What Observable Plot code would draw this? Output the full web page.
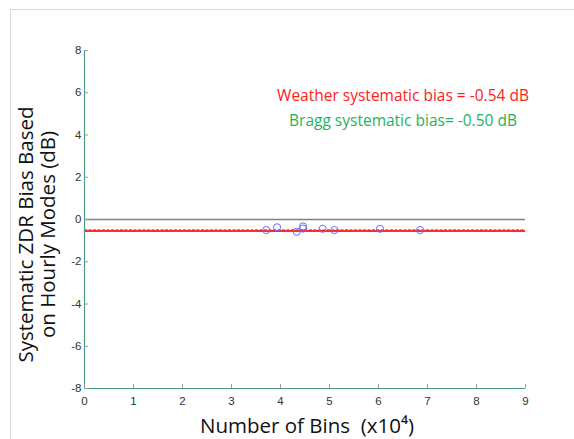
<!DOCTYPE html>
<html>
<head>
<meta charset="utf-8">
<script src="https://cdn.jsdelivr.net/npm/d3@7"></script>
<script src="https://cdn.jsdelivr.net/npm/@observablehq/plot@0.6"></script>
<style>
  html, body { margin: 0; padding: 0; background: #fff; }
  #wrap { position: relative; width: 574px; height: 439px; }
  #frame { position: absolute; left: 10px; top: 9px; right: 0; bottom: 0;
           border-left: 1px solid #dadada; border-top: 1px solid #dadada; }
  #chart { position: absolute; left: 0; top: 0; }
  #chart svg { background: transparent !important; }
</style>
</head>
<body>
<div id="wrap"><div id="frame"></div><div id="chart"></div></div>
<script>
// Data
const binsX10k = [3.71, 3.93, 4.33, 4.46, 4.46, 4.86, 5.10, 6.03, 6.85];
const biasDb   = [-0.50, -0.37, -0.58, -0.33, -0.43, -0.44, -0.50, -0.44, -0.50];
const weatherBias = -0.54;
const braggBias = -0.50;
const xTicks = [0, 1, 2, 3, 4, 5, 6, 7, 8, 9];
const yTicks = [-8, -6, -4, -2, 0, 2, 4, 6, 8];
const weatherLabel = "Weather systematic bias = -0.54 dB";
const braggLabel = "Bragg systematic bias= -0.50 dB";
const yTitle = "Systematic ZDR Bias Based\non Hourly Modes (dB)";
const xTitle = "Number of Bins  (x10\u2074)";

const points = binsX10k.map((x, i) => ({x, y: biasDb[i]}));
const axisColor = "#4d9a7c";
const font = "'Open Sans', sans-serif";

const chart = Plot.plot({
  width: 574,
  height: 439,
  marginLeft: 84,
  marginRight: 49,
  marginTop: 50,
  marginBottom: 51,
  style: {background: "transparent", fontFamily: "'Liberation Sans', Arial, sans-serif", fontSize: "11.5px", color: "#333"},
  x: {domain: [0, 9]},
  y: {domain: [-8, 8]},
  marks: [
    Plot.ruleY([0], {stroke: "#808080", strokeWidth: 1.5}),
    Plot.ruleY([braggBias], {stroke: "#3ec98a", strokeWidth: 2, strokeDasharray: "3,1.5"}),
    Plot.ruleY([weatherBias], {stroke: "#ff2a2a", strokeWidth: 2}),
    Plot.dot(points, {x: "x", y: "y", r: 3.6, stroke: "#6b6bff", strokeWidth: 1, fill: "none"}),
    Plot.ruleX([0], {stroke: axisColor, strokeWidth: 1.2}),
    Plot.ruleY([-8], {stroke: axisColor, strokeWidth: 1.2}),
    Plot.axisX(xTicks, {tickSize: -4, tickPadding: 12, stroke: "#999", label: null, fill: "#333", tickFormat: d3.format("d")}),
    Plot.axisY(yTicks, {tickSize: -4, tickPadding: 7, stroke: "#999", label: null, fill: "#333", tickFormat: d => d < 0 ? "-" + Math.abs(d) : String(d)}),
    Plot.text([weatherLabel], {frameAnchor: "top", dx: 98, dy: 39, fill: "#ff2020", fontSize: 15.5, fontFamily: font}),
    Plot.text([braggLabel], {frameAnchor: "top", dx: 98, dy: 64, fill: "#1fb45a", fontSize: 15.5, fontFamily: font}),
    Plot.text([yTitle], {frameAnchor: "left", textAnchor: "middle", dx: -48, dy: 15, rotate: -90, fill: "#111", fontSize: 20.5, lineHeight: 1.07, fontFamily: font}),
    Plot.text([xTitle], {frameAnchor: "bottom", dx: 2, dy: 44, fill: "#111", fontSize: 20.5, fontFamily: font})
  ]
});
document.getElementById("chart").appendChild(chart);
</script>
</body>
</html>
